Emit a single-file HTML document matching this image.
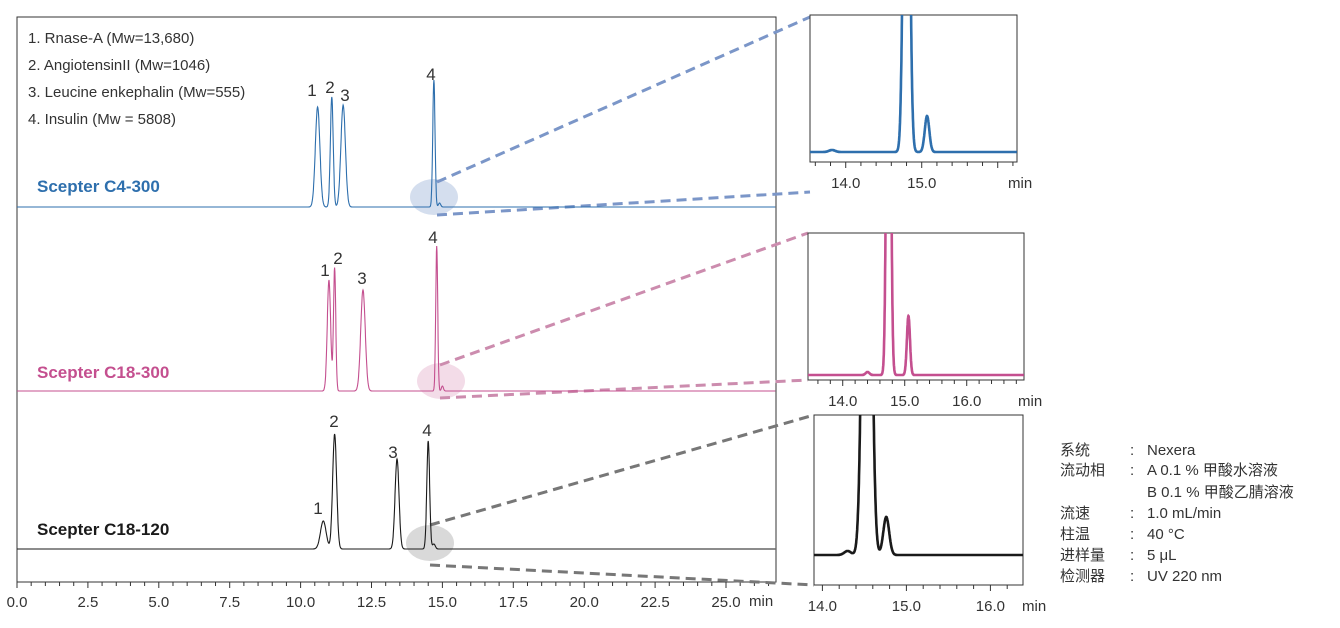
<!DOCTYPE html>
<html><head><meta charset="utf-8"><style>
body{margin:0;background:#fff;width:1340px;height:623px;overflow:hidden}
svg{font-family:"Liberation Sans","Noto Sans CJK SC",sans-serif}
</style></head><body>
<svg id="c" width="1340" height="623" viewBox="0 0 1340 623">
<defs>
<clipPath id="cm"><rect x="17" y="17" width="759" height="565"/></clipPath>
<clipPath id="c1"><rect x="810" y="15" width="207" height="147"/></clipPath>
<clipPath id="c2"><rect x="808" y="233" width="216" height="147"/></clipPath>
<clipPath id="c3"><rect x="814" y="415" width="209" height="170"/></clipPath>
</defs>
<g id="g"></g>
<g font-size="15" fill="#333">
<text x="28" y="43">1. Rnase-A (Mw=13,680)</text>
<text x="28" y="70">2. AngiotensinII (Mw=1046)</text>
<text x="28" y="97">3. Leucine enkephalin (Mw=555)</text>
<text x="28" y="124">4. Insulin (Mw = 5808)</text>
</g>
<g font-size="15" fill="#333">
<text x="1060" y="455">系统</text><text x="1130" y="455">:</text><text x="1147" y="455">Nexera</text>
<text x="1060" y="475">流动相</text><text x="1130" y="475">:</text><text x="1147" y="475">A 0.1 % 甲酸水溶液</text>
<text x="1147" y="497">B 0.1 % 甲酸乙腈溶液</text>
<text x="1060" y="518">流速</text><text x="1130" y="518">:</text><text x="1147" y="518">1.0 mL/min</text>
<text x="1060" y="539">柱温</text><text x="1130" y="539">:</text><text x="1147" y="539">40 °C</text>
<text x="1060" y="560">进样量</text><text x="1130" y="560">:</text><text x="1147" y="560">5 μL</text>
<text x="1060" y="581">检测器</text><text x="1130" y="581">:</text><text x="1147" y="581">UV 220 nm</text>
</g>
</svg>
<script>
const tickLabels=["0.0","2.5","5.0","7.5","10.0","12.5","15.0","17.5","20.0","22.5","25.0"];
const peakLabels=["1","2","3","4"];
const c4Times=[10.6,11.1,11.5,14.7,14.9];
const c4Heights=[100,110,102,127,4];
const c4Widths=[0.08,0.05,0.08,0.04,0.04];
const c18Times=[11.0,11.2,12.2,14.8,15.0];
const c18Heights=[111,123,101,145,5];
const c18Widths=[0.06,0.04,0.08,0.035,0.035];
const c120Times=[10.8,11.2,13.4,14.5,14.7];
const c120Heights=[28,115,90,108,5];
const c120Widths=[0.1,0.07,0.07,0.05,0.05];
// zoomed insets (heights in inset px)
const c4InsetTimes=[13.82,14.8,15.07];
const c4InsetHeights=[2,600,36];
const c4InsetWidths=[0.04,0.035,0.03];
const c18InsetTimes=[14.4,14.74,15.06];
const c18InsetHeights=[3,600,59];
const c18InsetWidths=[0.03,0.03,0.025];
const c120InsetTimes=[14.3,14.53,14.76];
const c120InsetHeights=[4,700,38];
const c120InsetWidths=[0.04,0.045,0.035];
const NS="http://www.w3.org/2000/svg";
const G=document.getElementById('g');
function el(t,a,p){const e=document.createElementNS(NS,t);for(const k in a)e.setAttribute(k,a[k]);(p||G).appendChild(e);return e;}
const X=t=>17+t*(726-17)/25;
function sig(t,T,H,W){let s=0;for(let i=0;i<T.length;i++){const d=(t-T[i])/W[i];s+=H[i]*Math.exp(-0.5*d*d);}return s;}
let e=el('rect',{x:17,y:17,width:759,height:565,fill:'none',stroke:'#333','stroke-width':1});

for(let i=0;i<=53;i++){const t=i*0.5;const x=X(t);if(x>776)break;el('line',{x1:x,x2:x,y1:582,y2:i%5==0?588:586,stroke:'#333'});}
tickLabels.forEach((l,i)=>{const t=el('text',{x:X(i*2.5),y:607,'text-anchor':'middle','font-size':15,fill:'#333'});t.textContent=l;
});
e=el('text',{x:749,y:606,'font-size':15,fill:'#333'});e.textContent='min';

const series=[
 {T:c4Times,H:c4Heights,W:c4Widths,IT:c4InsetTimes,IH:c4InsetHeights,IW:c4InsetWidths,base:207,col:'#2e6fad',name:'Scepter C4-300',ly:192,ell:[434,197],zoomLines:[[437,182,810,17],[437,215,810,192]],dash:'#7b96c8',ellc:'#c9d6ea',box:[810,15,207,147],clip:'c1',tx:[14.0,15.0],t0:13.53,pxm:76,ib:152,lab:[[312,96],[330,93],[345,101],[431,80]],unitX:1008},
 {T:c18Times,H:c18Heights,W:c18Widths,IT:c18InsetTimes,IH:c18InsetHeights,IW:c18InsetWidths,base:391,col:'#c44f8f',name:'Scepter C18-300',ly:378,ell:[441,381],zoomLines:[[440,365,808,233],[440,398,808,380]],dash:'#cc8cae',ellc:'#f0d3e2',box:[808,233,216,147],clip:'c2',tx:[14.0,15.0,16.0],t0:13.44,pxm:62,ib:375,lab:[[325,276],[338,264],[362,284],[433,243]],unitX:1018},
 {T:c120Times,H:c120Heights,W:c120Widths,IT:c120InsetTimes,IH:c120InsetHeights,IW:c120InsetWidths,base:549,col:'#1a1a1a',name:'Scepter C18-120',ly:535,ell:[430,543],zoomLines:[[430,525,814,415],[430,565,814,585]],dash:'#777',ellc:'#cfcfcf',box:[814,415,209,170],clip:'c3',tx:[14.0,15.0,16.0],t0:13.9,pxm:84,ib:555,lab:[[318,514],[334,427],[393,458],[427,436]],unitX:1022}
];
series.forEach((s,k)=>{
 e=el('ellipse',{cx:s.ell[0],cy:s.ell[1],rx:24,ry:18,fill:s.ellc,opacity:0.8});
 
 s.zoomLines.forEach(z=>{const l=el('line',{x1:z[0],y1:z[1],x2:z[2],y2:z[3],stroke:s.dash,'stroke-width':3,'stroke-dasharray':'10,6'});
  });
 let d='';for(let t=0;t<=26.75;t+=0.01){const y=s.base-sig(t,s.T,s.H,s.W);d+=(d?'L':'M')+X(t).toFixed(1)+','+y.toFixed(1);}
 const p=el('path',{d:d,fill:'none',stroke:s.col,'stroke-width':1.1,'clip-path':'url(#cm)'});
 
 const n=el('text',{x:37,y:s.ly,'font-size':17,'font-weight':'bold',fill:s.col});n.textContent=s.name;
 
 peakLabels.forEach((l,i)=>{const t=el('text',{x:s.lab[i][0],y:s.lab[i][1],'font-size':17,'text-anchor':'middle',fill:'#333'});t.textContent=l;
  });
 const b=s.box;
 e=el('rect',{x:b[0],y:b[1],width:b[2],height:b[3],fill:'#fff',stroke:'#333'});
 
 const IX=t=>b[0]+(t-s.t0)*s.pxm;
 let di='';const t1=s.t0+b[2]/s.pxm;
 for(let t=s.t0;t<=t1;t+=0.002){const y=s.ib-sig(t,s.IT,s.IH,s.IW);di+=(di?'L':'M')+IX(t).toFixed(1)+','+Math.max(y,b[1]-50).toFixed(1);}
 e=el('path',{d:di,fill:'none',stroke:s.col,'stroke-width':2.6,'clip-path':'url(#'+s.clip+')'});
 
 const by=b[1]+b[3];
 for(let t=Math.ceil(s.t0*5)/5;t<=t1;t+=0.2){const x=IX(t);el('line',{x1:x,x2:x,y1:by,y2:by+(Math.abs(t-Math.round(t))<0.01?6:4),stroke:'#333'});}
 s.tx.forEach(v=>{const t=el('text',{x:IX(v),y:by+26,'font-size':15,'text-anchor':'middle',fill:'#333'});t.textContent=v.toFixed(1);
  });
 const u=el('text',{x:s.unitX,y:by+26,'font-size':15,fill:'#333'});u.textContent='min';
 
});
</script>
</body></html>
